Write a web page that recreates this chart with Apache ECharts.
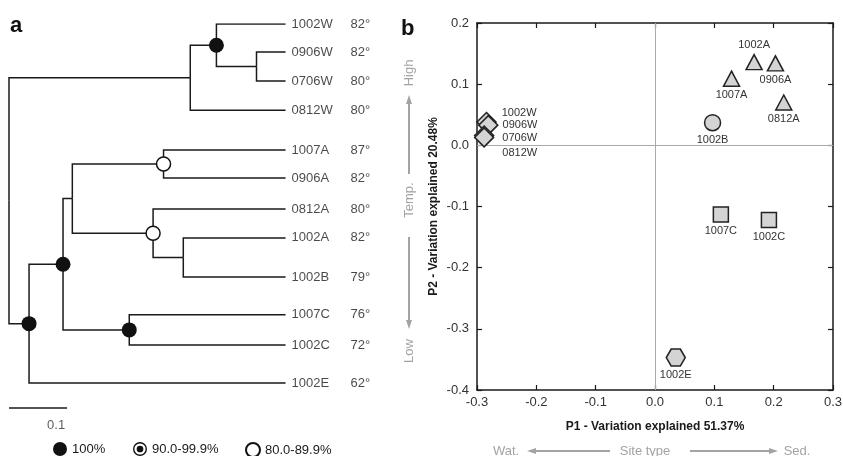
<!DOCTYPE html>
<html><head><meta charset="utf-8">
<script src="https://cdn.jsdelivr.net/npm/echarts@6/dist/echarts.min.js"></script>
<style>html,body{margin:0;padding:0;background:#fff}#c{width:843px;height:456px}</style>
</head><body><div id="c"></div>
<script>
// ---------- Panel a: dendrogram ----------
const leafNames = ['1002W','0906W','0706W','0812W','1007A','0906A','0812A','1002A','1002B','1007C','1002C','1002E'];
const leafTemps = [82, 82, 80, 80, 87, 82, 80, 82, 79, 76, 72, 62];
const leafRows  = [0, 0.95, 1.93, 2.92, 4.27, 5.22, 6.27, 7.25, 8.58, 9.86, 10.88, 12.17];
const leafDepth = 0.476;
const nodeIds      = ['N1', 'A', 'B', 'E', 'G', 'F', 'D', 'H', 'C', 'R', 'root'];
const nodeDepths   = [0.426, 0.357, 0.312, 0.266, 0.300, 0.248, 0.109, 0.207, 0.093, 0.0345, 0];
const nodeChildren = [['0906W','0706W'],['1002W','N1'],['A','0812W'],['1007A','0906A'],['1002A','1002B'],['0812A','G'],['E','F'],['1007C','1002C'],['D','H'],['C','1002E'],['B','R']];
const nodeSupport  = [null, '100%', null, '80.0-89.9%', null, '80.0-89.9%', null, '100%', '100%', '100%', null];
const supportClasses = ['100%', '90.0-99.9%', '80.0-89.9%'];
const scaleBarLength = 0.1;

// ---------- Panel b: PCoA ----------
const pcoaNames = ['1002W','0906W','0706W','0812W','1007A','1002A','0906A','0812A','1002B','1007C','1002C','1002E'];
const pcoaP1 = [-0.284, -0.281, -0.288, -0.288, 0.129, 0.167, 0.203, 0.217, 0.097, 0.111, 0.192, 0.035];
const pcoaP2 = [0.038, 0.033, 0.016, 0.013, 0.109, 0.136, 0.134, 0.070, 0.037, -0.113, -0.122, -0.347];
const pcoaGroup = ['W','W','W','W','A','A','A','A','B','C','C','E'];
const p1Range = [-0.3, 0.3];
const p2Range = [-0.4, 0.2];
const tickStep = 0.1;
const p1Title = 'P1 - Variation explained 51.37%';
const p2Title = 'P2 - Variation explained 20.48%';

// ---------- layout of tree ----------
const nodeMap = {};
leafNames.forEach((n, i) => nodeMap[n] = { x: leafDepth, y: leafRows[i] });
nodeIds.forEach((id, i) => nodeMap[id] = { x: nodeDepths[i], children: nodeChildren[i], support: nodeSupport[i] });
function layY(id) {
  const n = nodeMap[id];
  if (n.y === undefined) n.y = (layY(n.children[0]) + layY(n.children[1])) / 2;
  return n.y;
}
nodeIds.forEach(layY);
const branchData = [];
nodeIds.forEach(id => {
  const p = nodeMap[id];
  p.children.forEach(c => {
    const ch = nodeMap[c];
    branchData.push({ coords: [[p.x, p.y], [p.x, ch.y], [ch.x, ch.y]] });
  });
});
const supportData = supportClasses.map(cls =>
  nodeIds.filter((id, i) => nodeSupport[i] === cls).map(id => [nodeMap[id].x, nodeMap[id].y]));

const scaleRow = 13.0;
const FONT = '"Liberation Sans", Arial, Helvetica, sans-serif';
const INK = '#1a1a1a';
const GREY = '#a3a3a3';

const bullseye = 'path://M0,-10 A10,10 0 1,1 0,10 A10,10 0 1,1 0,-10 Z M0,-8 A8,8 0 1,0 0,8 A8,8 0 1,0 0,-8 Z M0,-4.8 A4.8,4.8 0 1,1 0,4.8 A4.8,4.8 0 1,1 0,-4.8 Z';
const hexagon = 'path://M0,5 L2.6,0.5 L7.4,0.5 L10,5 L7.4,9.5 L2.6,9.5 Z';
const groupStyle = {
  W: { symbol: 'diamond', size: 19 },
  A: { symbol: 'triangle', size: [16, 15] },
  B: { symbol: 'circle', size: 16 },
  C: { symbol: 'rect', size: 15 },
  E: { symbol: hexagon, size: [19, 17] }
};
const labelStyle = {
  '1002W': { position: 'right', offset: [2, -9] },
  '0906W': { position: 'right', offset: [1, 0] },
  '0706W': { position: 'right', offset: [5, 2] },
  '0812W': { position: 'right', offset: [5, 16] },
  '1002A': { position: 'top' }
};

const pcoaData = pcoaNames.map((n, i) => {
  const g = groupStyle[pcoaGroup[i]];
  const ls = labelStyle[n] || { position: 'bottom' };
  return {
    name: n, value: [pcoaP1[i], pcoaP2[i]],
    symbol: g.symbol, symbolSize: g.size,
    label: { position: ls.position, offset: ls.offset || [0, 0] }
  };
});

function legendFor(name, left) {
  return {
    data: [name], left: left, top: 442, padding: 0,
    itemWidth: 14, itemHeight: 14, itemGap: 5,
    textStyle: { fontSize: 13, color: INK, fontFamily: FONT },
    selectedMode: false
  };
}

const axisCommon = {
  axisLine: { show: true, onZero: false, lineStyle: { color: INK, width: 1.5 } },
  axisTick: { show: true, inside: true, length: 5, lineStyle: { color: INK, width: 1.2 } },
  splitLine: { show: false }
};

const option = {
  animation: false,
  backgroundColor: '#fff',
  textStyle: { fontFamily: FONT },
  legend: [legendFor('100%', 53), legendFor('90.0-99.9%', 133), legendFor('80.0-89.9%', 245)],
  grid: [
    { left: 9, top: 24, width: 290.5, height: scaleRow * 29.5 + 29.5 * 2, outerBoundsMode: 'none', containLabel: false },
    { left: 477, top: 23, width: 356, height: 367, outerBoundsMode: 'none', containLabel: false }
  ],
  xAxis: [
    { gridIndex: 0, type: 'value', min: 0, max: 0.5, show: false },
    Object.assign({ gridIndex: 1, type: 'value', min: p1Range[0], max: p1Range[1], interval: tickStep, position: 'bottom',
      name: p1Title, nameLocation: 'middle', nameGap: 31,
      nameTextStyle: { fontSize: 12, fontWeight: 'bold', color: INK, fontFamily: FONT },
      axisLabel: { formatter: v => v.toFixed(1), fontSize: 13, color: '#333', margin: 6, fontFamily: FONT } }, axisCommon),
    Object.assign({ gridIndex: 1, type: 'value', min: p1Range[0], max: p1Range[1], interval: tickStep, position: 'top',
      axisLabel: { show: false } }, axisCommon)
  ],
  yAxis: [
    { gridIndex: 0, type: 'value', min: 0, max: scaleRow + 2, inverse: true, show: false },
    Object.assign({ gridIndex: 1, type: 'value', min: p2Range[0], max: p2Range[1], interval: tickStep, position: 'left',
      name: p2Title, nameLocation: 'middle', nameGap: 37, nameRotate: 90,
      nameTextStyle: { fontSize: 12, fontWeight: 'bold', color: INK, fontFamily: FONT },
      axisLabel: { formatter: v => v.toFixed(1), fontSize: 13, color: '#333', margin: 8, fontFamily: FONT } }, axisCommon),
    Object.assign({ gridIndex: 1, type: 'value', min: p2Range[0], max: p2Range[1], interval: tickStep, position: 'right',
      axisLabel: { show: false } }, axisCommon)
  ],
  series: [
    {
      type: 'lines', coordinateSystem: 'cartesian2d', xAxisIndex: 0, yAxisIndex: 0,
      polyline: true, silent: true, z: 2,
      lineStyle: { color: INK, width: 1.5, opacity: 1 },
      data: branchData
    },
    {
      type: 'lines', coordinateSystem: 'cartesian2d', xAxisIndex: 0, yAxisIndex: 0,
      silent: true, z: 2,
      lineStyle: { color: INK, width: 1.5, opacity: 1 },
      data: [{ coords: [[0, scaleRow], [scaleBarLength, scaleRow]] }]
    },
    {
      type: 'scatter', xAxisIndex: 0, yAxisIndex: 0, symbolSize: 0, silent: true,
      data: [[scaleBarLength, scaleRow]],
      label: { show: true, position: 'bottom', offset: [-11, 6], formatter: () => String(scaleBarLength),
        fontSize: 13, color: '#333', fontFamily: FONT }
    },
    {
      type: 'scatter', xAxisIndex: 0, yAxisIndex: 0, symbolSize: 0, silent: true,
      data: leafNames.map((n, i) => ({ name: n, value: [leafDepth, leafRows[i]] })),
      label: {
        show: true, position: 'right', distance: 6,
        formatter: p => '{a|' + p.name + '}{b|' + leafTemps[p.dataIndex] + '°}',
        rich: {
          a: { width: 59, fontSize: 13, color: INK, fontFamily: FONT },
          b: { fontSize: 13, color: INK, fontFamily: FONT }
        }
      }
    },
    {
      name: '100%', type: 'scatter', xAxisIndex: 0, yAxisIndex: 0, z: 5,
      symbol: 'circle', symbolSize: 15,
      itemStyle: { color: '#111', opacity: 1 },
      data: supportData[0]
    },
    {
      name: '90.0-99.9%', type: 'scatter', xAxisIndex: 0, yAxisIndex: 0, z: 5,
      symbol: bullseye, symbolSize: 14,
      itemStyle: { color: '#111', opacity: 1 },
      data: supportData[1]
    },
    {
      name: '80.0-89.9%', type: 'scatter', xAxisIndex: 0, yAxisIndex: 0, z: 5,
      symbol: 'circle', symbolSize: 14,
      itemStyle: { color: '#fff', borderColor: '#111', borderWidth: 1.5, opacity: 1 },
      data: supportData[2]
    },
    {
      type: 'scatter', xAxisIndex: 1, yAxisIndex: 1, z: 5,
      itemStyle: { color: '#d4d4d4', borderColor: '#222', borderWidth: 1.5, opacity: 1 },
      label: { show: true, formatter: p => p.name, fontSize: 11, color: '#333', distance: 3, fontFamily: FONT },
      data: pcoaData,
      markLine: {
        silent: true, symbol: 'none', animation: false,
        label: { show: false },
        lineStyle: { color: '#aaa', width: 1, type: 'solid' },
        emphasis: { disabled: true },
        data: [{ xAxis: 0 }, { yAxis: 0 }]
      }
    }
  ],
  graphic: [
    { type: 'text', left: 10, top: 15, style: { text: 'a', font: 'bold 22px ' + FONT, fill: '#111' } },
    { type: 'text', left: 401, top: 18, style: { text: 'b', font: 'bold 22px ' + FONT, fill: '#111' } },
    { type: 'text', x: 409, y: 73, rotation: Math.PI / 2, style: { text: 'High', font: '13px ' + FONT, fill: GREY, align: 'center', verticalAlign: 'middle' } },
    { type: 'line', shape: { x1: 409, y1: 174, x2: 409, y2: 102 }, style: { stroke: GREY, lineWidth: 2 } },
    { type: 'polygon', shape: { points: [[409, 95], [406, 104], [412, 104]] }, style: { fill: GREY } },
    { type: 'text', x: 409, y: 200, rotation: Math.PI / 2, style: { text: 'Temp.', font: '13px ' + FONT, fill: GREY, align: 'center', verticalAlign: 'middle' } },
    { type: 'line', shape: { x1: 409, y1: 237, x2: 409, y2: 322 }, style: { stroke: GREY, lineWidth: 2 } },
    { type: 'polygon', shape: { points: [[409, 329], [406, 320], [412, 320]] }, style: { fill: GREY } },
    { type: 'text', x: 409, y: 351, rotation: Math.PI / 2, style: { text: 'Low', font: '13px ' + FONT, fill: GREY, align: 'center', verticalAlign: 'middle' } },
    { type: 'text', x: 506, y: 451, style: { text: 'Wat.', font: '13px ' + FONT, fill: GREY, align: 'center', verticalAlign: 'middle' } },
    { type: 'line', shape: { x1: 610, y1: 451, x2: 535, y2: 451 }, style: { stroke: GREY, lineWidth: 2 } },
    { type: 'polygon', shape: { points: [[527, 451], [536, 448], [536, 454]] }, style: { fill: GREY } },
    { type: 'text', x: 645, y: 451, style: { text: 'Site type', font: '13px ' + FONT, fill: GREY, align: 'center', verticalAlign: 'middle' } },
    { type: 'line', shape: { x1: 690, y1: 451, x2: 770, y2: 451 }, style: { stroke: GREY, lineWidth: 2 } },
    { type: 'polygon', shape: { points: [[778, 451], [769, 448], [769, 454]] }, style: { fill: GREY } },
    { type: 'text', x: 797, y: 451, style: { text: 'Sed.', font: '13px ' + FONT, fill: GREY, align: 'center', verticalAlign: 'middle' } }
  ]
};

const chart = echarts.init(document.getElementById('c'), null, { renderer: 'canvas' });
chart.setOption(option);
</script>
</body></html>
